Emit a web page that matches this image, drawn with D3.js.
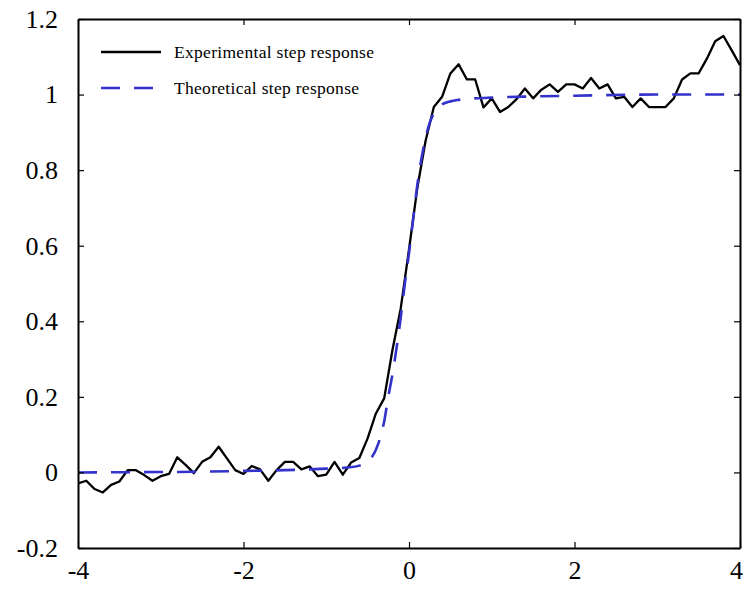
<!DOCTYPE html>
<html>
<head>
<meta charset="utf-8">
<script src="https://cdn.jsdelivr.net/npm/d3@7"></script>
<style>
  body { margin: 0; background: #fff; }
  svg { display: block; }
  text { font-family: "Liberation Serif", "Times New Roman", serif; fill: #000; }
</style>
</head>
<body>
<div id="chart"></div>
<script>
// experimental samples, every 0.1 from -4 to 4
const expX = [-4.0, -3.9, -3.8, -3.7, -3.6, -3.5, -3.4, -3.3, -3.2, -3.1,
  -3.0, -2.9, -2.8, -2.7, -2.6, -2.5, -2.4, -2.3, -2.2, -2.1,
  -2.0, -1.9, -1.8, -1.7, -1.6, -1.5, -1.4, -1.3, -1.2, -1.1,
  -1.0, -0.9, -0.8, -0.7, -0.6, -0.5, -0.4, -0.3, -0.2, -0.1,
  0.0, 0.1, 0.2, 0.3, 0.4, 0.5, 0.6, 0.7, 0.8, 0.9,
  1.0, 1.1, 1.2, 1.3, 1.4, 1.5, 1.6, 1.7, 1.8, 1.9,
  2.0, 2.1, 2.2, 2.3, 2.4, 2.5, 2.6, 2.7, 2.8, 2.9,
  3.0, 3.1, 3.2, 3.3, 3.4, 3.5, 3.6, 3.7, 3.8, 3.9, 4.0];
const expY = [-0.029, -0.022, -0.044, -0.053, -0.033, -0.024, 0.006, 0.006, -0.007, -0.022,
  -0.010, -0.004, 0.040, 0.020, -0.002, 0.028, 0.040, 0.068, 0.037, 0.006,
  -0.004, 0.017, 0.008, -0.022, 0.006, 0.028, 0.028, 0.008, 0.016, -0.010,
  -0.006, 0.028, -0.006, 0.026, 0.038, 0.090, 0.156, 0.196, 0.324, 0.434,
  0.590, 0.752, 0.877, 0.967, 0.994, 1.056, 1.080, 1.040, 1.040, 0.966,
  0.990, 0.954, 0.967, 0.988, 1.016, 0.990, 1.013, 1.027, 1.007, 1.027,
  1.027, 1.016, 1.044, 1.016, 1.027, 0.990, 0.994, 0.967, 0.990, 0.967,
  0.967, 0.967, 0.990, 1.040, 1.056, 1.056, 1.095, 1.141, 1.155, 1.117, 1.078];

const theoX = [-4, -3, -2.5, -2, -1.5, -1, -0.75, -0.6, -0.5, -0.45, -0.4, -0.35, -0.3, -0.25,
  -0.2, -0.15, -0.1, -0.05, 0, 0.05, 0.1, 0.15, 0.2, 0.25, 0.3, 0.35, 0.4, 0.5, 0.6, 0.8,
  1.0, 1.5, 2, 3, 4];
const theoY = [0.0, 0.001, 0.002, 0.004, 0.006, 0.010, 0.013, 0.018, 0.027, 0.040, 0.060, 0.090, 0.135, 0.200,
  0.260, 0.330, 0.410, 0.500, 0.580, 0.670, 0.760, 0.830, 0.885, 0.925, 0.950, 0.965, 0.974, 0.982, 0.986, 0.990,
  0.992, 0.995, 0.997, 1.0, 1.0];

const xTicks = [-4, -2, 0, 2, 4];
const yTicks = [-0.2, 0, 0.2, 0.4, 0.6, 0.8, 1, 1.2];
const legendLabels = ["Experimental step response", "Theoretical step response"];

const W = 745, H = 591;
const margin = {top: 19, right: 5, bottom: 43, left: 78};
const width = W - margin.left - margin.right,
      height = H - margin.top - margin.bottom;

const svg = d3.select("#chart").append("svg")
    .attr("width", W)
    .attr("height", H);

const g = svg.append("g")
    .attr("transform", `translate(${margin.left},${margin.top})`);

const x = d3.scaleLinear().domain([-4, 4]).range([0, width]);
const y = d3.scaleLinear().domain([-0.2, 1.2]).range([height, 0]);

g.append("clipPath").attr("id", "clip")
  .append("rect").attr("width", width).attr("height", height);

// lines
const plot = g.append("g").attr("clip-path", "url(#clip)");

const theo = theoX.map((v, i) => [v, theoY[i]]);
const expr = expX.map((v, i) => [v, expY[i]]);

plot.append("path")
  .datum(expr)
  .attr("fill", "none")
  .attr("stroke", "#000")
  .attr("stroke-width", 2.3)
  .attr("stroke-linejoin", "round")
  .attr("d", d3.line().x(d => x(d[0])).y(d => y(d[1])));

plot.append("path")
  .datum(theo)
  .attr("fill", "none")
  .attr("stroke", "#3333cc")
  .attr("stroke-width", 2.6)
  .attr("stroke-dasharray", "19,14")
  .attr("d", d3.line().curve(d3.curveMonotoneX).x(d => x(d[0])).y(d => y(d[1])));

// axes, ticks inside, mirrored on all sides (plain hyphen for minus)
const fmt = d => String(+d.toFixed(1));

const axBottom = g.append("g")
  .attr("transform", `translate(0,${height})`)
  .call(d3.axisBottom(x).tickValues(xTicks).tickSizeInner(-6).tickSizeOuter(0).tickPadding(13).tickFormat(fmt));
const axLeft = g.append("g")
  .call(d3.axisLeft(y).tickValues(yTicks).tickSizeInner(-6).tickSizeOuter(0).tickPadding(20).tickFormat(fmt));
const axTop = g.append("g")
  .call(d3.axisTop(x).tickValues(xTicks).tickSizeInner(-6).tickSizeOuter(0).tickFormat(""));
const axRight = g.append("g")
  .attr("transform", `translate(${width},0)`)
  .call(d3.axisRight(y).tickValues(yTicks).tickSizeInner(-6).tickSizeOuter(0).tickFormat(""));

[axBottom, axLeft, axTop, axRight].forEach(a => {
  a.select(".domain").attr("stroke", "#000").attr("stroke-width", 2);
  a.selectAll(".tick line").attr("stroke", "#000").attr("stroke-width", 1.2);
  a.selectAll("text")
    .style("font-family", '"Liberation Serif", "Times New Roman", serif')
    .style("font-size", "26px")
    .attr("fill", "#000");
});
// last x label sits on the right edge; nudge it in so it is not cut
axBottom.selectAll(".tick text").filter(d => d === 4).attr("dx", "-4");

// legend
const legend = g.append("g").attr("transform", "translate(23,33)");
const legendStyles = [
  {stroke: "#000", width: 2.3, dash: null},
  {stroke: "#3333cc", width: 2.6, dash: "19,14"}
];
legendLabels.forEach((lab, i) => {
  const row = legend.append("g").attr("transform", `translate(0,${i * 36})`);
  row.append("line")
    .attr("x1", 0).attr("x2", 60).attr("y1", 0).attr("y2", 0)
    .attr("stroke", legendStyles[i].stroke)
    .attr("stroke-width", legendStyles[i].width)
    .attr("stroke-dasharray", legendStyles[i].dash);
  row.append("text")
    .attr("x", 73).attr("y", 0).attr("dy", "0.32em")
    .style("font-size", "17.5px")
    .style("letter-spacing", "0.3px")
    .text(lab);
});
</script>
</body>
</html>
